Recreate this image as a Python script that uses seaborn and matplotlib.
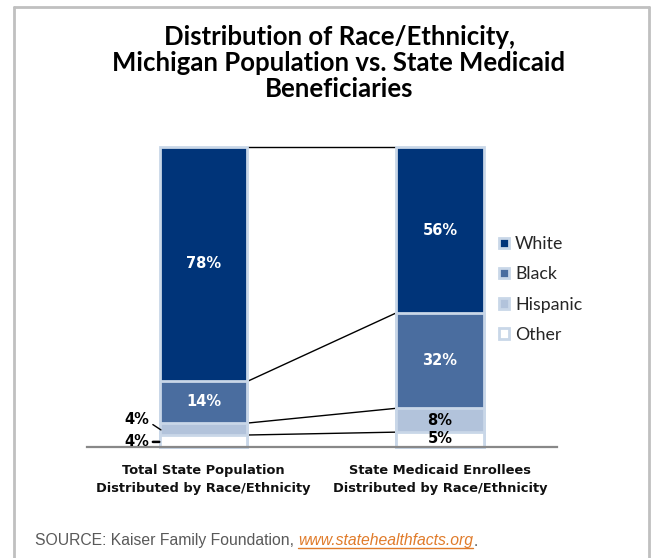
import matplotlib
matplotlib.use("Agg")
import matplotlib.pyplot as plt
import seaborn as sns
import pandas as pd
import numpy as np
from matplotlib.patches import Patch
from matplotlib.lines import Line2D

# ---- data ----
categories = ["Total State Population\nDistributed by Race/Ethnicity",
              "State Medicaid Enrollees\nDistributed by Race/Ethnicity"]
groups = ["White", "Black", "Hispanic", "Other"]
white = [78, 56]
black = [14, 32]
hispanic = [4, 8]
other = [4, 5]
title_lines = ["Distribution of Race/Ethnicity,",
               "Michigan Population vs. State Medicaid",
               "Beneficiaries"]

colors = {"White": "#003479", "Black": "#4a6d9f", "Hispanic": "#b2c3db", "Other": "#ffffff"}
edge = "#c9d7e8"

sns.set_theme(style="white")
plt.rcParams['font.family'] = ['DejaVu Sans']

fig = plt.figure(figsize=(6.51, 5.58), dpi=100)
ax = fig.add_axes([87/651, 111/558, 470/651, 300/558])

series = {"Other": other, "Hispanic": hispanic, "Black": black, "White": white}
totals = np.array(white) + np.array(black) + np.array(hispanic) + np.array(other)
# 100% stacked: normalise each bar to its total
cum = {}
running = np.zeros(2)
for g in ["Other", "Hispanic", "Black", "White"]:
    running = running + np.array(series[g]) / totals * 100
    cum[g] = running.copy()
share = {g: np.array(series[g]) / totals * 100 for g in groups}

bw = 0.368
for g in ["White", "Black", "Hispanic", "Other"]:
    df = pd.DataFrame({"cat": categories, "val": cum[g]})
    sns.barplot(data=df, x="cat", y="val", color=colors[g], width=bw,
                edgecolor=edge, linewidth=2.0, saturation=1, ax=ax, zorder=2)

for p in ax.patches:
    p.set_clip_on(False)

ax.set_xlim(-0.4926, 1.4947)
ax.set_ylim(0, 100)
ax.set_yticks([])
ax.set_ylabel("")
ax.set_xlabel("")
for s in ["top", "right", "left"]:
    ax.spines[s].set_visible(False)
ax.spines["bottom"].set_color("#888888")
ax.spines["bottom"].set_linewidth(1.6)
ax.spines["bottom"].set_zorder(5)
ax.tick_params(axis="x", length=0, pad=12)
ax.set_xticks([0, 1])
ax.set_xticklabels(categories, fontsize=9.4, fontweight="bold", color="#111111",
                   linespacing=1.5)

# connector lines
for g in ["White", "Black", "Hispanic", "Other"]:
    ax.plot([0 + bw/2 + 0.005, 1 - bw/2 - 0.005], [cum[g][0], cum[g][1]],
            color="black", lw=1.0, zorder=1, clip_on=False)

def mid(g, i):
    return cum[g][i] - share[g][i] / 2

lbl_kw = dict(ha="center", va="center", fontsize=10.5, fontweight="bold")
ax.text(0, mid("White", 0), f"{white[0]}%", color="white", **lbl_kw)
ax.text(0, mid("Black", 0), f"{black[0]}%", color="white", **lbl_kw)
ax.text(1, mid("White", 1), f"{white[1]}%", color="white", **lbl_kw)
ax.text(1, mid("Black", 1), f"{black[1]}%", color="white", **lbl_kw)
ax.text(1, mid("Hispanic", 1), f"{hispanic[1]}%", color="black", **lbl_kw)
ax.text(1, mid("Other", 1) + 0.3, f"{other[1]}%", color="black", **lbl_kw)

# outside labels for small left segments
ax.annotate(f"{hispanic[0]}%", xy=(-bw/2 + 0.004, mid("Hispanic", 0) - 0.3),
            xytext=(-0.228, mid("Hispanic", 0) + 3.2), ha="right", va="center",
            fontsize=10.5, fontweight="bold", color="black",
            arrowprops=dict(arrowstyle="-", color="black", lw=1.0,
                            shrinkA=0, shrinkB=0, relpos=(1.0, 0.3)),
            annotation_clip=False, zorder=6)
ax.annotate(f"{other[0]}%", xy=(-bw/2 - 0.003, mid("Other", 0) - 0.3),
            xytext=(-0.228, mid("Other", 0) - 0.3), ha="right", va="center",
            fontsize=10.5, fontweight="bold", color="black",
            arrowprops=dict(arrowstyle="-", color="black", lw=1.8,
                            shrinkA=0, shrinkB=0, relpos=(1.0, 0.5)),
            annotation_clip=False, zorder=6)

# legend
handles = [Patch(facecolor=colors[g], edgecolor=edge, linewidth=2.0, label=g) for g in groups]
fig.legend(handles=handles, loc="center left", bbox_to_anchor=(492/651, 1 - 289.5/558),
           frameon=False, handlelength=0.55, handleheight=0.55, handletextpad=0.35,
           labelspacing=0.8, borderaxespad=0, prop={"family": "Lato", "size": 12.8})

# title
for i, line in enumerate(title_lines):
    fig.text(339/651, 1 - (37 + 26*i)/558, line, ha="center", va="center",
             fontsize=18.5, fontweight="bold", family="Lato", color="black")

# source
src_y = 1 - 541/558
t1 = fig.text(35/651, src_y, "SOURCE: Kaiser Family Foundation, ", ha="left", va="center",
              fontsize=11.3, family="Liberation Sans", color="#595959")
fig.canvas.draw()
r = fig.canvas.get_renderer()
bb = t1.get_window_extent(r)
x2 = bb.x1 / fig.bbox.width
t2 = fig.text(x2, src_y, "www.statehealthfacts.org", ha="left", va="center",
              fontsize=11.3, family="Liberation Sans", style="italic", color="#e07b2a")
bb2 = t2.get_window_extent(r)
x3 = bb2.x1 / fig.bbox.width
fig.text(x3, src_y, ".", ha="left", va="center", fontsize=11.3,
         family="Liberation Sans", color="#595959")
uy = (bb2.y0 + 1) / fig.bbox.height
fig.add_artist(Line2D([bb2.x0 / fig.bbox.width, x3], [uy, uy], color="#e07b2a", lw=1.0))

# frame
fc = "#c0c0c0"
fig.add_artist(Line2D([14/651, 14/651], [0, 1 - 7/558], color=fc, lw=2.0))
fig.add_artist(Line2D([14/651, 649/651], [1 - 7/558, 1 - 7/558], color=fc, lw=2.0))
fig.add_artist(Line2D([649/651, 649/651], [0, 1 - 7/558], color=fc, lw=2.0))

fig.savefig("out.png", dpi=100, facecolor="white")
